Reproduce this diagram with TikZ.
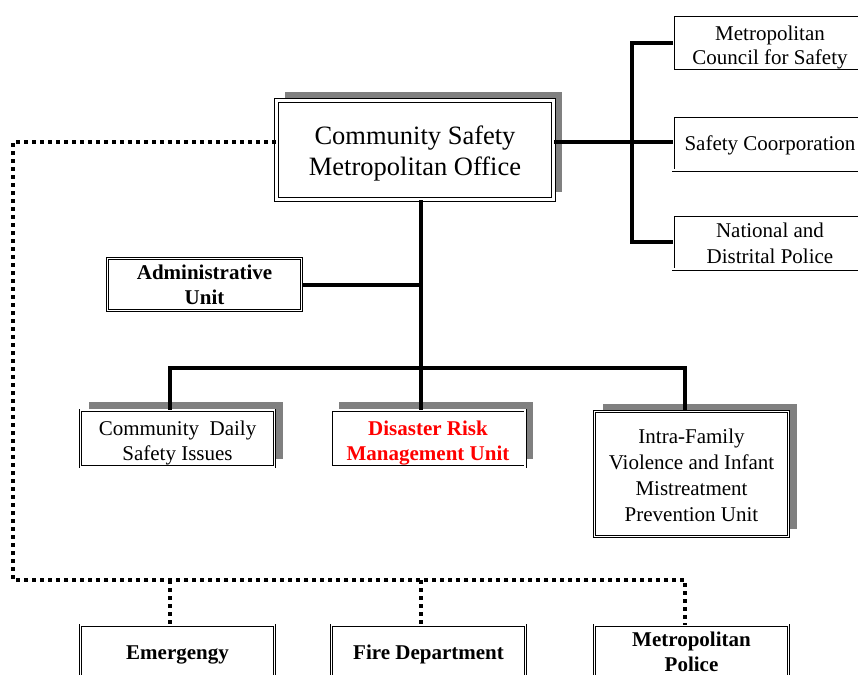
\documentclass[tikz,border=0pt]{standalone}
\usepackage{fontspec}
\setmainfont{Liberation Serif}
\usepackage{tikz}
\usetikzlibrary{shadows}
\definecolor{ink}{HTML}{000000}
\definecolor{shade}{HTML}{808080}
\definecolor{alert}{HTML}{FF0000}
\newcommand{\lift}[1]{\rule{0pt}{#1}}
\tikzset{
  box/.style={draw=ink, fill=white, line width=0.7pt, double=white, double distance=1.6pt,
    align=center, inner sep=2pt, minimum width=194pt, font=\fontsize{21}{25}\selectfont},
  topbox/.style={box, line width=1.2pt, double distance=2.4pt, minimum width=277pt,
    minimum height=99pt, font=\fontsize{26.5}{31}\selectfont},
  sidebox/.style={box, minimum height=54pt, font=\fontsize{21}{24}\selectfont},
  shad/.style={drop shadow={shadow xshift=8pt, shadow yshift=8pt, opacity=1, fill=shade}},
  bold/.style={font=\fontsize{21}{25}\selectfont\bfseries},
  link/.style={draw=ink, line width=4pt, line join=miter},
  dots/.style={draw=ink, line width=4pt, dash pattern=on 4pt off 4pt},
}

\begin{document}
\begin{tikzpicture}[x=1pt, y=-1pt]
  \useasboundingbox (0,0) rectangle (858,674);
  \clip (0,0) rectangle (858,674);
  % head office and partners
  \node[topbox, shad] (main) at (415,150) {\lift{25pt}Community Safety\\Metropolitan Office};
  \node[sidebox] (council) at (770,43) {\lift{23pt}Metropolitan\\Council for Safety};
  \node[sidebox] (coop) at (770,143) {\lift{19pt}Safety Coorporation};
  \node[sidebox, font=\fontsize{21}{26}\selectfont] (police) at (770,242) {\lift{18pt}National and\\Distrital Police};
  \node[box, bold, minimum height=52pt] (admin) at (204.5,284.5) {Administrative\\Unit};
  % units
  \node[box, shad, minimum height=54pt] (daily) at (177.5,438.5) {\lift{23pt}Community\ \ Daily\\Safety Issues};
  \node[box, shad, bold, text=alert, minimum height=54pt] (drm) at (428,438.5) {\lift{23pt}Disaster Risk\\Management Unit};
  \node[box, shad, minimum height=125pt, font=\fontsize{21}{26}\selectfont] (family) at (691.5,474)
    {\lift{18pt}Intra-Family\\Violence and Infant\\Mistreatment\\Prevention Unit};
  % external services
  \node[box, bold, minimum height=54pt] (emerg) at (177.5,652) {\lift{19pt}Emergengy};
  \node[box, bold, minimum height=54pt] (fire) at (428.5,652) {\lift{19pt}Fire Department};
  \node[box, bold, minimum height=54pt] (metpol) at (691.5,652) {Metropolitan\\Police};

  \coordinate (rj) at (632,0);
  \coordinate (bar) at (421,368);
  \coordinate (b1) at (170,368);
  \coordinate (b3) at (685,368);
  \coordinate (d0) at (13,580);
  \coordinate (d1) at (170,580);
  \coordinate (d2) at (421,580);
  \coordinate (d3) at (685,580);

  \draw[link] ([yshift=8pt]main.east) -- ([yshift=8pt]main.east -| coop.west);
  \draw[link] (council.west) -- (council.west -| rj) -- (police.west -| rj) -- (police.west);
  \draw[link] (bar |- main.south) -- (bar) -- (bar |- drm.north);
  \draw[link] (admin.east) -- (admin.east -| bar);
  \draw[link] (b1 |- daily.north) -- (b1) -- (b3) -- (b3 |- family.north);
  \draw[dots] ([yshift=8pt]main.west) -| (d0) -- (d3) -- (d3 |- metpol.north);
  \foreach \c/\n in {d1/emerg, d2/fire}
    \draw[dots] (\c) -- (\c |- \n.north);
\end{tikzpicture}
\end{document}
